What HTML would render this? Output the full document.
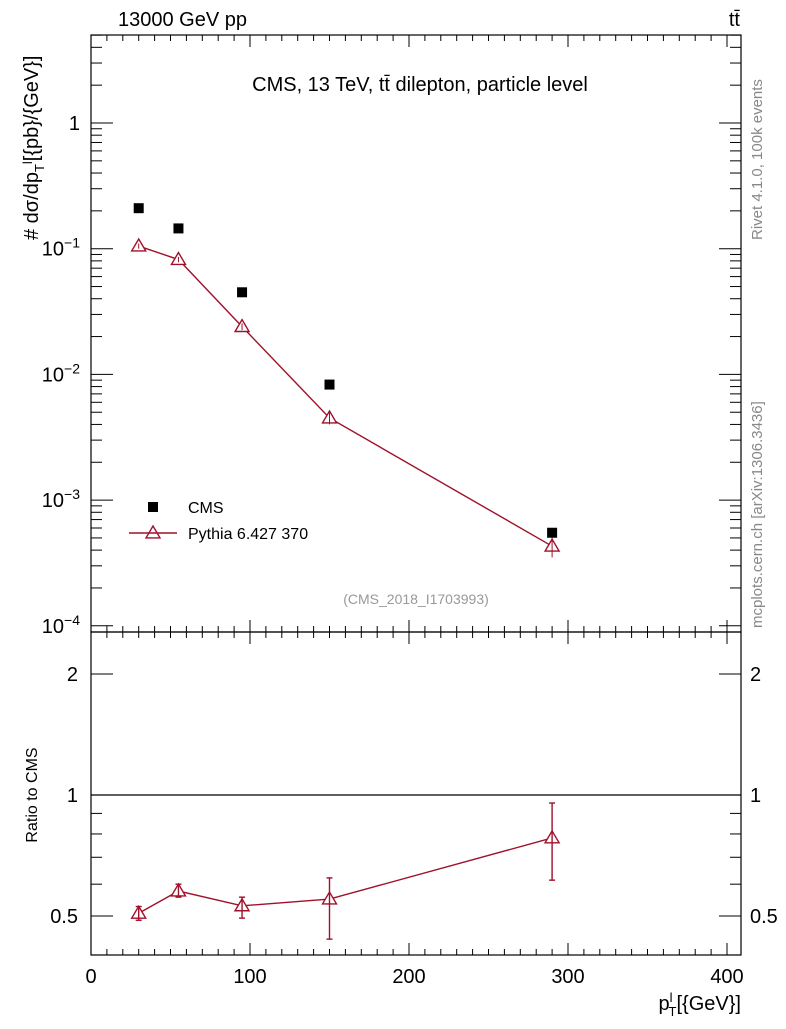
<!DOCTYPE html>
<html><head><meta charset="utf-8"><style>
body{margin:0;background:#fff;width:786px;height:1024px;overflow:hidden}
svg{font-family:"Liberation Sans",sans-serif}
</style></head><body>
<svg id="c" width="786" height="1024" xmlns="http://www.w3.org/2000/svg"></svg>
<script>
const xVals=[30,55,95,150,290];
const cmsVals=[0.21,0.145,0.045,0.0083,0.00055];
const pyVals=[0.105,0.082,0.024,0.0045,0.00043];
const pyErr=[0.005,0.004,0.0015,0.0005,0.00008];
const ratioVals=[0.508,0.577,0.530,0.551,0.782];
const ratioUp=[0.02,0.023,0.027,0.071,0.173];
const ratioDn=[0.02,0.02,0.036,0.113,0.168];
const xTicks=[0,100,200,300,400];
const yExp=[0,-1,-2,-3,-4];
const rTicks=[0.5,1,2];

const S=document.getElementById('c');const NS='http://www.w3.org/2000/svg';
const L=91,R=741,T=35,M=632,B=955;
const X=v=>L+v*1.59;
const Y=v=>123-Math.log10(v)*125.7;
const YR=v=>795-Math.log10(v)*402;
function el(t,a,p){const e=document.createElementNS(NS,t);for(const k in a)e.setAttribute(k,a[k]);(p||S).appendChild(e);return e;}
function line(x1,y1,x2,y2,c,w){return el('line',{x1,y1,x2,y2,stroke:c||'#000','stroke-width':w||1});}
function txt(x,y,s,sz,anc,col){const t=el('text',{x,y,'font-size':sz,'text-anchor':anc||'start',fill:col||'#000'});t.textContent=s;return t;}

let f1=el('rect',{x:L,y:T,width:R-L,height:M-T,fill:'none',stroke:'#000','stroke-width':1.2});

let f2=el('rect',{x:L,y:M,width:R-L,height:B-M,fill:'none',stroke:'#000','stroke-width':1.2});


for(let v=0;v<=400;v+=10){const x=X(v);if(x>R)break;const maj=v%100==0,h=maj?12:6;
 line(x,T,x,T+h);line(x,M,x,M-h);line(x,M,x,M+h);line(x,B,x,B-h);}
xTicks.forEach(v=>{const t=txt(X(v),983,String(v),20,'middle');});

for(let e=-4;e<=0;e++){for(let m=1;m<10;m++){const v=m*Math.pow(10,e);const y=Y(v);if(y<T||y>M)continue;const h=m==1?22:11;line(L,y,L+h,y);line(R,y,R-h,y);}}
yExp.forEach(e=>{const y=Y(Math.pow(10,e));let t;
 if(e==0){t=txt(80,y+7,'1',20,'end');}
 else{t=el('text',{x:80,y:y+7,'font-size':20,'text-anchor':'end'});t.innerHTML='10<tspan dy="-8" font-size="14">\u2212'+(-e)+'</tspan>';}
 });

[0.4,0.5,0.6,0.7,0.8,0.9,1,2].forEach(v=>{const y=YR(v);if(y>B||y<M)return;const h=(v==0.5||v==1||v==2)?22:11;line(L,y,L+h,y);line(R,y,R-h,y);});
rTicks.forEach(v=>{const y=YR(v);const a=txt(78,y+7,String(v),20,'end');
 const b=txt(750,y+7,String(v),20,'start');});
let rl=line(L,YR(1),R,YR(1),'#000',1.2);

const red='#a0102a';
function tri(x,y,p){const s=7;return el('path',{d:`M${x},${y-s} L${x+s},${y+s*0.7} L${x-s},${y+s*0.7} Z`,fill:'#fff',stroke:red,'stroke-width':1.4},p);}

let pl=el('polyline',{points:xVals.map((x,i)=>X(x)+','+Y(pyVals[i])).join(' '),fill:'none',stroke:red,'stroke-width':1.4});

xVals.forEach((x,i)=>{
 const g=el('g',{});
 line(X(x),Y(pyVals[i]+pyErr[i]),X(x),Y(pyVals[i]-pyErr[i])).setAttribute('stroke',red);
 tri(X(x),Y(pyVals[i]),g);
 const r=el('rect',{x:X(x)-5,y:Y(cmsVals[i])-5,width:10,height:10,fill:'#000'});
 
});

let rp=el('polyline',{points:xVals.map((x,i)=>X(x)+','+YR(ratioVals[i])).join(' '),fill:'none',stroke:red,'stroke-width':1.4});

xVals.forEach((x,i)=>{const cx=X(x);
 const y1=YR(ratioVals[i]+ratioUp[i]),y2=YR(ratioVals[i]-ratioDn[i]);
 const g=el('g',{});
 line(cx,y1,cx,y2,red,1.4);line(cx-3,y1,cx+3,y1,red,1.4);line(cx-3,y2,cx+3,y2,red,1.4);
 tri(cx,YR(ratioVals[i]),g);});

let lg=el('g',{});
el('rect',{x:148,y:502,width:10,height:10,fill:'#000'},lg);
txt(188,513,'CMS',16,'start');
line(129,533,177,533,red,1.4);tri(153,533,lg);
txt(188,539,'Pythia 6.427 370',16,'start');

txt(118,26,'13000 GeV pp',20,'start');
txt(740,26,'tt\u0304',20,'end');
txt(420,91,'CMS, 13 TeV, tt\u0304 dilepton, particle level',20,'middle');
txt(416,604,'(CMS_2018_I1703993)',14,'middle','#999');
let xt=el('text',{x:741,y:1010,'font-size':20,'text-anchor':'end'});xt.innerHTML='p<tspan dy="-8" font-size="13">l</tspan><tspan dy="14" font-size="13" dx="-4">T</tspan><tspan dy="-6">[{GeV}]</tspan>';

let yt=el('text',{transform:'translate(38,240) rotate(-90)','font-size':20,'text-anchor':'start'});
yt.innerHTML='# dσ/dp<tspan font-size="13" dy="6">T</tspan><tspan font-size="13" dy="-12">l</tspan><tspan dy="6">[{pb}/{GeV}]</tspan>';

let rt=el('text',{transform:'translate(37,795) rotate(-90)','font-size':16,'text-anchor':'middle'});rt.textContent='Ratio to CMS';

let rv=el('text',{transform:'translate(762,240) rotate(-90)','font-size':15,'text-anchor':'start',fill:'#888'});rv.textContent='Rivet 4.1.0,  100k events';

let mc=el('text',{transform:'translate(762,628) rotate(-90)','font-size':15,'text-anchor':'start',fill:'#888'});mc.textContent='mcplots.cern.ch [arXiv:1306.3436]';

</script>
</body></html>
